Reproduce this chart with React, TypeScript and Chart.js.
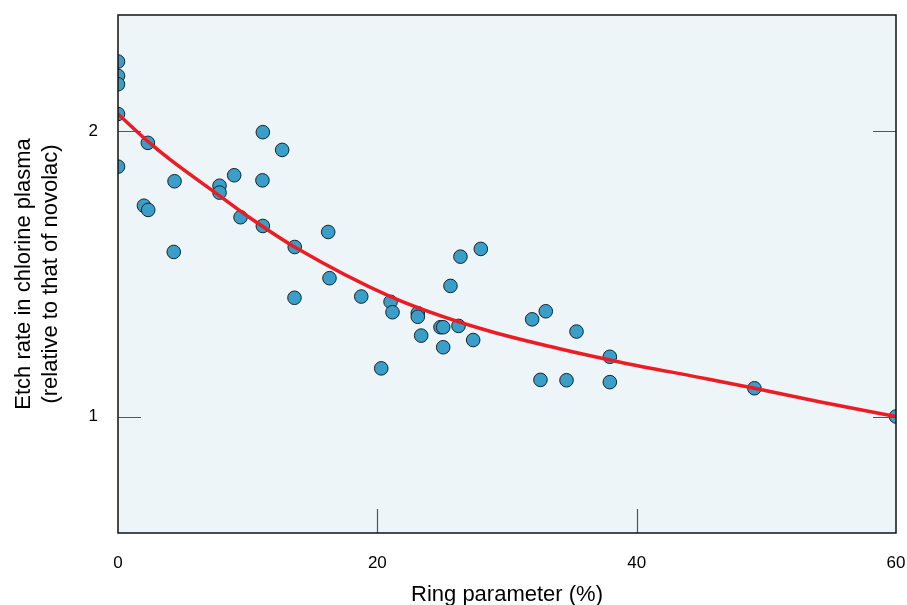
import React, { useEffect, useRef } from 'react';
import { Chart, registerables } from 'chart.js';

Chart.register(...registerables);

// Measured data (ring parameter %, relative etch rate)
const ringParam = [
  0, 0, 0, 0, 0, 2.3, 2.0, 2.33, 4.36, 4.3,
  7.83, 7.83, 8.96, 9.45, 11.17, 11.14, 11.17, 12.66, 13.63, 13.61,
  16.21, 16.31, 18.76, 20.3, 21.02, 21.17, 23.12, 23.12, 23.38, 24.87,
  25.08, 26.26, 25.08, 27.39, 25.64, 26.41, 27.98, 31.94, 32.99, 35.36,
  37.93, 32.58, 34.59, 37.93, 49.08, 60,
];
const etchRate = [
  2.367, 2.286, 2.24, 2.084, 1.834, 1.943, 1.668, 1.651, 1.77, 1.491,
  1.751, 1.722, 1.796, 1.622, 1.994, 1.774, 1.588, 1.91, 1.509, 1.334,
  1.565, 1.399, 1.338, 1.124, 1.321, 1.288, 1.285, 1.274, 1.217, 1.242,
  1.242, 1.246, 1.183, 1.204, 1.373, 1.474, 1.502, 1.266, 1.291, 1.229,
  1.156, 1.093, 1.092, 1.087, 1.071, 1.0,
];

// Fitted curve
const fitX = [0, 2.3, 4.05, 7.52, 10.22, 13.69, 21.01, 27.95, 34.13, 38.75, 44.92, 49.08, 54.18, 60];
const fitY = [2.084, 1.95, 1.864, 1.721, 1.618, 1.507, 1.338, 1.238, 1.178, 1.141, 1.099, 1.071, 1.036, 1.0];

const xTicks = [0, 20, 40, 60];
const yTicks = [1, 2];

const xTitle = 'Ring parameter (%)';
const yTitle = ['Etch rate in chlorine plasma', '(relative to that of novolac)'];

const FONT = "'Liberation Sans', Arial, Helvetica, sans-serif";

const framePlugin = {
  id: 'frame',
  beforeDraw(chart: any) {
    const { ctx, chartArea: a } = chart;
    ctx.save();
    ctx.fillStyle = '#EEF5F9';
    ctx.fillRect(a.left, a.top, a.right - a.left, a.bottom - a.top);
    ctx.restore();
  },
  afterDatasetsDraw(chart: any) {
    const { ctx, chartArea: a, scales } = chart;
    const xs = scales.x;
    const ys = scales.y;
    ctx.save();
    ctx.strokeStyle = '#555';
    ctx.lineWidth = 1.2;
    ctx.beginPath();
    yTicks.forEach((v) => {
      const y = Math.round(ys.getPixelForValue(v)) + 0.5;
      ctx.moveTo(a.left, y);
      ctx.lineTo(a.left + 23, y);
      ctx.moveTo(a.right, y);
      ctx.lineTo(a.right - 23, y);
    });
    xTicks.slice(1, -1).forEach((v) => {
      const x = Math.round(xs.getPixelForValue(v)) + 0.5;
      ctx.moveTo(x, a.bottom);
      ctx.lineTo(x, a.bottom - 24);
    });
    ctx.stroke();
    ctx.strokeStyle = '#111';
    ctx.lineWidth = 1.5;
    ctx.strokeRect(a.left, a.top, a.right - a.left, a.bottom - a.top);
    ctx.restore();
  },
};

const zeroPad = (s: any) => {
  s.paddingLeft = 0;
  s.paddingRight = 0;
  s.paddingTop = 0;
  s.paddingBottom = 0;
};

export default function App() {
  const ref = useRef<HTMLCanvasElement | null>(null);

  useEffect(() => {
    if (!ref.current) return;
    const chart = new Chart(ref.current, {
      data: {
        datasets: [
          {
            type: 'line',
            label: 'fit',
            data: fitX.map((x, i) => ({ x, y: fitY[i] })),
            borderColor: '#EC1C24',
            borderWidth: 3.5,
            pointRadius: 0,
            fill: false,
            cubicInterpolationMode: 'monotone',
            order: 0,
            clip: 0,
          } as any,
          {
            type: 'scatter',
            label: 'data',
            data: ringParam.map((x, i) => ({ x, y: etchRate[i] })),
            backgroundColor: '#3A9FC8',
            borderColor: '#15232b',
            borderWidth: 1,
            pointRadius: 6.8,
            order: 1,
            clip: 0,
          } as any,
        ],
      },
      options: {
        responsive: false,
        animation: false,
        devicePixelRatio: 1,
        layout: { padding: { top: 15, right: 11, bottom: 0, left: 0 } },
        plugins: {
          legend: { display: false },
          tooltip: { enabled: false },
        },
        scales: {
          x: {
            type: 'linear',
            min: 0,
            max: 60,
            afterBuildTicks: (s: any) => {
              s.ticks = xTicks.map((v) => ({ value: v }));
            },
            afterFit: (s: any) => {
              s.height = 72;
              zeroPad(s);
            },
            grid: { display: false, drawTicks: false },
            border: { display: false },
            ticks: {
              color: '#000',
              padding: 20,
              maxRotation: 0,
              font: { family: FONT, size: 17 },
              callback: (v: any) => String(v),
            },
            title: {
              display: true,
              text: xTitle,
              color: '#000',
              font: { family: FONT, size: 22, lineHeight: 0.9 },
              padding: { top: 0, bottom: 0 },
            },
          },
          y: {
            type: 'logarithmic',
            min: 0.7537,
            max: 2.65,
            afterBuildTicks: (s: any) => {
              s.ticks = yTicks.map((v) => ({ value: v }));
            },
            afterFit: (s: any) => {
              s.width = 118;
              zeroPad(s);
            },
            grid: { display: false, drawTicks: false },
            border: { display: false },
            ticks: {
              color: '#000',
              padding: 20,
              font: { family: FONT, size: 17 },
              callback: (v: any) => String(v),
            },
            title: {
              display: true,
              text: yTitle,
              color: '#000',
              font: { family: FONT, size: 22, lineHeight: 1.25 },
              padding: { top: 10, bottom: 0 },
            },
          },
        },
      } as any,
      plugins: [framePlugin],
    });
    return () => chart.destroy();
  }, []);

  return (
    <div style={{ position: 'fixed', left: 0, top: 0, width: 907, height: 605, background: '#fff' }}>
      <canvas ref={ref} width={907} height={605} style={{ display: 'block', width: 907, height: 605 }} />
    </div>
  );
}
